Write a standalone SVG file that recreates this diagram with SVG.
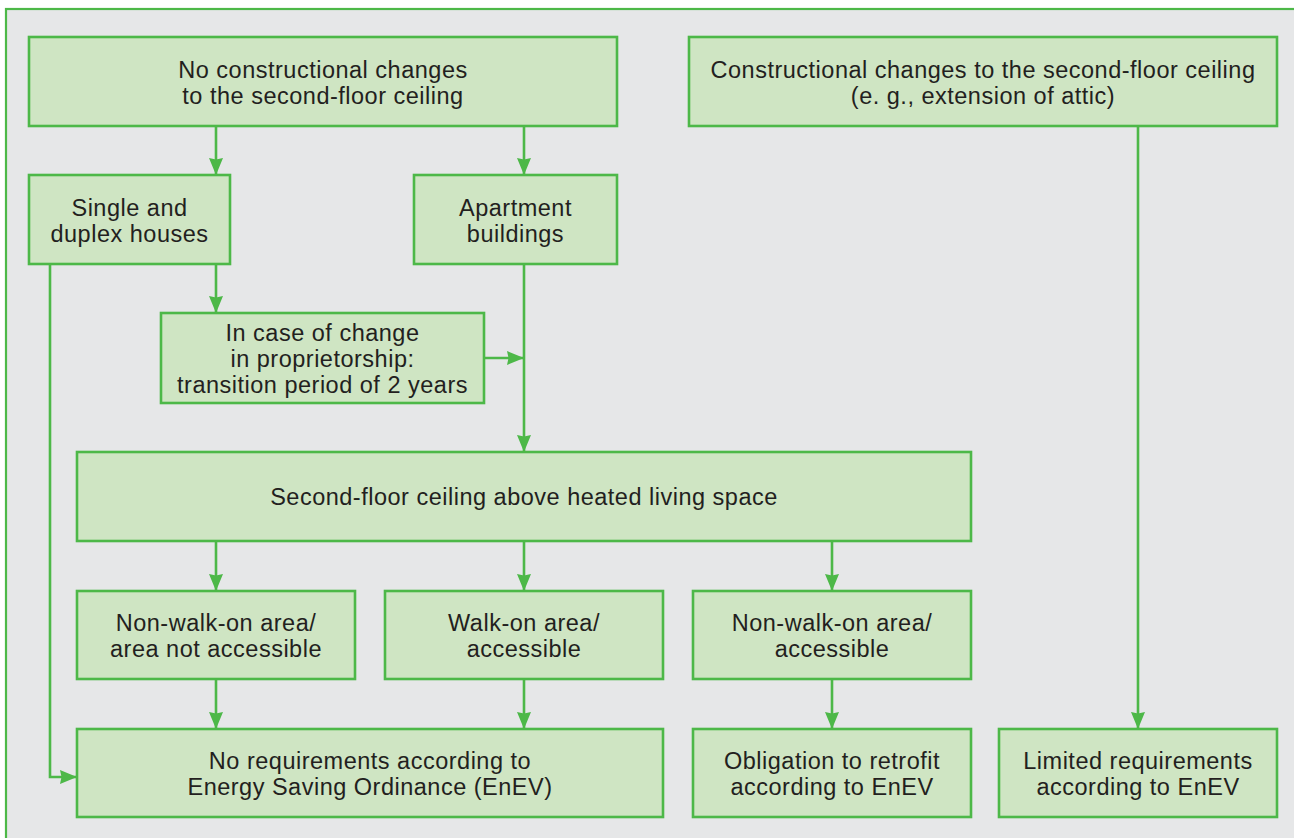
<svg xmlns="http://www.w3.org/2000/svg" width="1294" height="838" viewBox="0 0 1294 838">
<defs>
<style>
.box{fill:#cfe5c3;stroke:#4db848;stroke-width:2.6}
.t{font-family:"Liberation Sans",Arial,sans-serif;font-size:23.5px;letter-spacing:0.5px;fill:#231f20;text-anchor:middle}
.c{fill:none;stroke:#4db848;stroke-width:2.6}
</style>
<marker id="ah" markerUnits="userSpaceOnUse" markerWidth="17" markerHeight="14" viewBox="0 0 17 14" refX="17" refY="7" orient="auto">
<path d="M0,0 L17,7 L0,14 L1.5,7 Z" fill="#4db848"/>
</marker>
</defs>
<rect x="0" y="0" width="1294" height="838" fill="#ffffff"/>
<rect x="6" y="9" width="1310" height="850" fill="#e6e7e8" stroke="#4db848" stroke-width="2.2"/>

<g id="connectors">
<path class="c" d="M216,126 V175" marker-end="url(#ah)"/>
<path class="c" d="M524,126 V175" marker-end="url(#ah)"/>
<path class="c" d="M1138,126 V729" marker-end="url(#ah)"/>
<path class="c" d="M216,264 V313" marker-end="url(#ah)"/>
<path class="c" d="M50,264 V777 H77" marker-end="url(#ah)"/>
<path class="c" d="M524,264 V452" marker-end="url(#ah)"/>
<path class="c" d="M484,358 H524" marker-end="url(#ah)"/>
<path class="c" d="M216,541 V591" marker-end="url(#ah)"/>
<path class="c" d="M524,541 V591" marker-end="url(#ah)"/>
<path class="c" d="M832,541 V591" marker-end="url(#ah)"/>
<path class="c" d="M216,679 V729" marker-end="url(#ah)"/>
<path class="c" d="M524,679 V729" marker-end="url(#ah)"/>
<path class="c" d="M832,679 V729" marker-end="url(#ah)"/>
</g>

<g id="no-changes">
<rect class="box" x="29" y="37" width="588" height="89"/>
<text class="t" x="323" y="78">No constructional changes</text>
<text class="t" x="323" y="104">to the second-floor ceiling</text>
</g>
<g id="changes">
<rect class="box" x="689" y="37" width="588" height="89"/>
<text class="t" x="983" y="78">Constructional changes to the second-floor ceiling</text>
<text class="t" x="983" y="104">(e. g., extension of attic)</text>
</g>
<g id="single">
<rect class="box" x="29" y="175" width="201" height="89"/>
<text class="t" x="129.5" y="216">Single and</text>
<text class="t" x="129.5" y="242">duplex houses</text>
</g>
<g id="apartment">
<rect class="box" x="414" y="175" width="203" height="89"/>
<text class="t" x="515.5" y="216">Apartment</text>
<text class="t" x="515.5" y="242">buildings</text>
</g>
<g id="incase">
<rect class="box" x="161" y="313" width="323" height="90"/>
<text class="t" x="322.5" y="341">In case of change</text>
<text class="t" x="322.5" y="367">in proprietorship:</text>
<text class="t" x="322.5" y="393">transition period of 2 years</text>
</g>
<g id="ceiling">
<rect class="box" x="77" y="452" width="894" height="89"/>
<text class="t" x="524" y="505">Second-floor ceiling above heated living space</text>
</g>
<g id="nonwalk-na">
<rect class="box" x="77" y="591" width="278" height="88"/>
<text class="t" x="216" y="631">Non-walk-on area/</text>
<text class="t" x="216" y="657">area not accessible</text>
</g>
<g id="walk">
<rect class="box" x="385" y="591" width="278" height="88"/>
<text class="t" x="524" y="631">Walk-on area/</text>
<text class="t" x="524" y="657">accessible</text>
</g>
<g id="nonwalk-a">
<rect class="box" x="693" y="591" width="278" height="88"/>
<text class="t" x="832" y="631">Non-walk-on area/</text>
<text class="t" x="832" y="657">accessible</text>
</g>
<g id="no-req">
<rect class="box" x="77" y="729" width="586" height="88"/>
<text class="t" x="370" y="769">No requirements according to</text>
<text class="t" x="370" y="795">Energy Saving Ordinance (EnEV)</text>
</g>
<g id="retrofit">
<rect class="box" x="693" y="729" width="278" height="88"/>
<text class="t" x="832" y="769">Obligation to retrofit</text>
<text class="t" x="832" y="795">according to EnEV</text>
</g>
<g id="limited">
<rect class="box" x="999" y="729" width="278" height="88"/>
<text class="t" x="1138" y="769">Limited requirements</text>
<text class="t" x="1138" y="795">according to EnEV</text>
</g>
</svg>
